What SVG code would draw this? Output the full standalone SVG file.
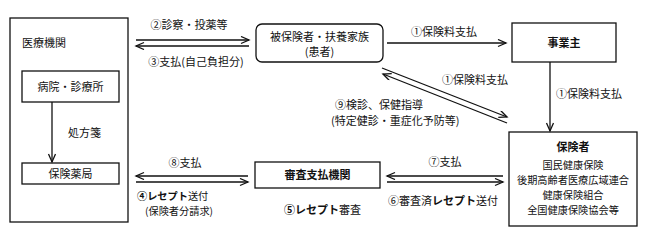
<svg xmlns="http://www.w3.org/2000/svg" width="650" height="241" viewBox="0 0 650 241">
<style>
text{font-family:"Noto Sans CJK JP","Noto Sans",sans-serif;font-size:11px;fill:#111;font-weight:400}
.b{font-weight:700}
.m{text-anchor:middle}
.s{font-size:10.2px}
.box{fill:#fff;stroke:#111;stroke-width:1.3}
.ln{stroke:#111;stroke-width:1.3;fill:none;marker-end:url(#ah)}
</style>
<defs>
<marker id="ah" markerUnits="userSpaceOnUse" markerWidth="12" markerHeight="10" refX="9" refY="4" orient="auto">
<path d="M1,0.5 L9,4 L1,7.5" fill="none" stroke="#111" stroke-width="1.3"/>
</marker>
</defs>
<rect width="650" height="241" fill="#fff"/>
<g id="iryokikan">
<rect class="box" x="10" y="18" width="118" height="204"/>
<text x="22" y="47">医療機関</text>
</g>
<g id="byoin">
<rect class="box" x="22" y="71" width="97" height="31"/>
<text class="m" x="70.5" y="90.5">病院・診療所</text>
</g>
<g id="yakkyoku">
<rect class="box" x="22" y="163" width="97" height="21"/>
<text class="m" x="70.5" y="177.5">保険薬局</text>
</g>
<g id="hihokensha">
<rect class="box" x="256" y="24" width="127" height="38" rx="6"/>
<text class="m" x="319.5" y="41">被保険者・扶養家族</text>
<text class="m" x="319.5" y="56">(患者)</text>
</g>
<g id="jigyonushi">
<rect class="box" x="512" y="23" width="104" height="39"/>
<text class="m b" x="564" y="47">事業主</text>
</g>
<g id="shinsa">
<rect class="box" x="255" y="162" width="125" height="26"/>
<text class="m b" x="317.5" y="179">審査支払機関</text>
</g>
<g id="hokensha">
<rect class="box" x="509" y="132" width="128" height="94"/>
<text class="m b" x="573" y="151">保険者</text>
<text class="m s" x="573" y="169">国民健康保険</text>
<text class="m s" x="573" y="184">後期高齢者医療広域連合</text>
<text class="m s" x="573" y="199">健康保険組合</text>
<text class="m s" x="573" y="214">全国健康保険協会等</text>
</g>
<g id="connectors">
<line class="ln" x1="136" y1="40" x2="249" y2="40"/>
<line class="ln" x1="249" y1="46" x2="136" y2="46"/>
<line class="ln" x1="387" y1="43" x2="506" y2="43"/>
<line class="ln" x1="550" y1="62" x2="550" y2="131"/>
<line class="ln" x1="382" y1="68" x2="507" y2="117"/>
<line class="ln" x1="507" y1="123" x2="383" y2="74"/>
<line class="ln" x1="52" y1="102" x2="52" y2="162"/>
<line class="ln" x1="248" y1="176" x2="136" y2="176"/>
<line class="ln" x1="136" y1="182" x2="248" y2="182"/>
<line class="ln" x1="503" y1="176" x2="387" y2="176"/>
<line class="ln" x1="387" y1="182" x2="503" y2="182"/>
</g>
<g id="labels">
<text class="m" x="189" y="29">②診察・投薬等</text>
<text class="m" x="196" y="66">③支払(自己負担分)</text>
<text class="m" x="444" y="36">①保険料支払</text>
<text x="556" y="98">①保険料支払</text>
<text x="442" y="84">①保険料支払</text>
<text x="335" y="108.5" font-size="10.5">⑨検診、保健指導</text>
<text x="331" y="124.5" font-size="10.5">(特定健診・重症化予防等)</text>
<text x="68" y="137">処方箋</text>
<text class="m" x="185" y="167">⑧支払</text>
<text class="s" x="137" y="200"><tspan class="b">④レセプト</tspan>送付</text>
<text class="s" x="145" y="215">(保険者分請求)</text>
<text class="m" x="445" y="166">⑦支払</text>
<text x="388" y="205">⑥審査済<tspan class="b">レセプト</tspan>送付</text>
<text x="284" y="214"><tspan class="b">⑤レセプト</tspan>審査</text>
</g>
</svg>
